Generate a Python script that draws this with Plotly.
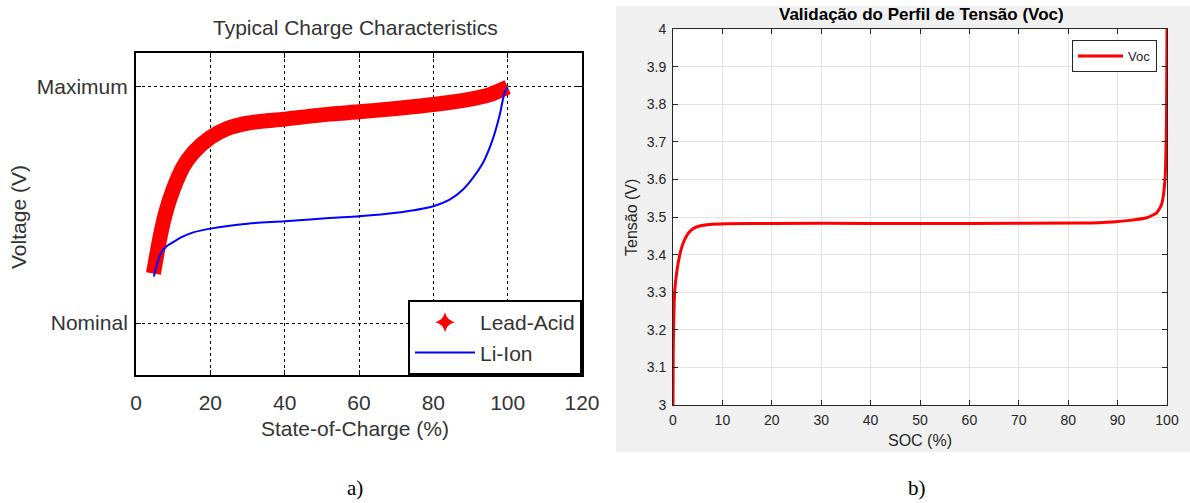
import plotly.graph_objects as go

# ---- Left chart data (normalized voltage: Nominal = 0, Maximum = 1) ----
soc_lead = [4.7, 6.5, 8.2, 10, 12.7, 15.4, 20, 24.4, 30, 40, 52, 60, 70, 80, 90, 95, 100]
v_lead = [0.21, 0.367, 0.48, 0.566, 0.662, 0.722, 0.786, 0.823, 0.847, 0.864, 0.885,
          0.895, 0.909, 0.926, 0.949, 0.967, 1.0]

soc_li = [4.8, 6.5, 8.2, 10, 12.7, 15.4, 20, 30, 40, 52, 60, 70, 80, 84.4, 88, 90.7,
          93.4, 96, 97.8, 99.2, 100]
v_li = [0.197, 0.289, 0.325, 0.343, 0.367, 0.384, 0.40, 0.421, 0.431, 0.445, 0.452,
        0.467, 0.495, 0.523, 0.566, 0.616, 0.68, 0.779, 0.878, 0.977, 1.0]

left_xticks = [0, 20, 40, 60, 80, 100, 120]
left_yticks = [0, 1]
left_yticktext = ["Nominal", "Maximum"]

# ---- Right chart data ----
soc_voc = [0, 0.05, 0.15, 0.34, 0.81, 1.35, 2.0, 3.04, 4.05, 5.4, 7.4, 10.8, 20, 40,
           60, 82.4, 89.1, 92.5, 95.9, 97.9, 98.9, 99.6, 99.9, 100]
voc = [3.0, 3.15, 3.227, 3.303, 3.358, 3.398, 3.429, 3.456, 3.469, 3.476, 3.48, 3.482,
       3.483, 3.483, 3.483, 3.484, 3.487, 3.491, 3.498, 3.511, 3.533, 3.6, 3.76, 4.0]

right_xticks = [0, 10, 20, 30, 40, 50, 60, 70, 80, 90, 100]
right_yticks = [3.0, 3.1, 3.2, 3.3, 3.4, 3.5, 3.6, 3.7, 3.8, 3.9, 4.0]
right_yticktext = ["3", "3.1", "3.2", "3.3", "3.4", "3.5", "3.6", "3.7", "3.8", "3.9", "4"]

W, H = 1190, 503


def px(x):
    return x / W


def py(y):
    return 1 - y / H


SANS = "Liberation Sans, Arial, sans-serif"
SERIF = "Liberation Serif, Times New Roman, serif"
LCOL = "#333333"
RCOL = "#262626"

fig = go.Figure()

fig.add_trace(go.Scatter(
    x=soc_lead, y=v_lead, mode="lines",
    line=dict(color="#ff0000", width=15, shape="spline", smoothing=0.8),
    showlegend=False, xaxis="x", yaxis="y", hoverinfo="skip"))
fig.add_trace(go.Scatter(
    x=[None], y=[None], mode="markers", name="Lead-Acid",
    marker=dict(symbol="star-diamond", size=14, color="#ff0000"),
    xaxis="x", yaxis="y", legend="legend"))
fig.add_trace(go.Scatter(
    x=soc_li, y=v_li, mode="lines", name="Li-Ion",
    line=dict(color="#0000ff", width=2, shape="spline", smoothing=0.8),
    xaxis="x", yaxis="y", legend="legend"))

fig.add_trace(go.Scatter(
    x=soc_voc, y=voc, mode="lines", name="Voc",
    line=dict(color="#ff0000", width=3, shape="spline", smoothing=0.5),
    xaxis="x2", yaxis="y2", legend="legend2"))

left_axis_common = dict(
    ticks="inside", ticklen=5, tickcolor="black", showline=True, linecolor="black",
    linewidth=2, mirror="allticks", showgrid=True, gridcolor="black", griddash="dot",
    gridwidth=1, zeroline=False, automargin=False,
    tickfont=dict(family=SANS, size=21, color=LCOL))

right_axis_common = dict(
    ticks="inside", ticklen=5, tickcolor=RCOL, showline=True, linecolor=RCOL,
    linewidth=1, mirror="allticks", showgrid=True, gridcolor="#e3e3e3", gridwidth=1,
    zeroline=False, automargin=False, tickfont=dict(family=SANS, size=14, color=RCOL))


def ann(text, x, y, size, color, family=SANS, angle=0):
    return dict(text=text, x=px(x), y=py(y), xref="paper", yref="paper",
                xanchor="center", yanchor="middle", showarrow=False, textangle=angle,
                font=dict(family=family, size=size, color=color))


fig.update_layout(
    width=W, height=H, autosize=False,
    margin=dict(l=0, r=0, t=0, b=0, pad=0, autoexpand=False),
    paper_bgcolor="white", plot_bgcolor="white",
    xaxis=dict(domain=[px(136), px(582)], range=[0, 120], anchor="y",
               tickvals=left_xticks, ticklabelstandoff=8, **left_axis_common),
    yaxis=dict(domain=[py(375), py(53)], range=[-0.22, 1.144], anchor="x",
               tickvals=left_yticks, ticktext=left_yticktext, ticklabelstandoff=2,
               **left_axis_common),
    xaxis2=dict(domain=[px(673), px(1167)], range=[0, 100], anchor="y2",
                tickvals=right_xticks, ticklabelstandoff=2, **right_axis_common),
    yaxis2=dict(domain=[py(405), py(29)], range=[3, 4], anchor="x2",
                tickvals=right_yticks, ticktext=right_yticktext, ticklabelstandoff=3,
                **right_axis_common),
    legend=dict(x=px(582), y=py(375), xanchor="right", yanchor="bottom",
                bordercolor="black", borderwidth=2, bgcolor="white",
                font=dict(family=SANS, size=21, color=LCOL), itemwidth=60,
                tracegroupgap=0),
    legend2=dict(x=px(1157), y=py(40), xanchor="right", yanchor="top",
                 bordercolor=RCOL, borderwidth=1, bgcolor="white",
                 font=dict(family=SANS, size=13, color=RCOL), itemwidth=45),
    shapes=[
        dict(type="rect", xref="paper", yref="paper", x0=px(616), x1=1.0,
             y0=py(452), y1=py(6), fillcolor="#f0f0f0", line=dict(width=0),
             layer="below"),
        dict(type="rect", xref="x2 domain", yref="y2 domain", x0=0, x1=1, y0=0, y1=1,
             fillcolor="white", line=dict(width=0), layer="below"),
    ],
    annotations=[
        ann("Typical Charge Characteristics", 355, 27, 21, LCOL),
        ann("State-of-Charge (%)", 355, 428, 21, LCOL),
        ann("Voltage (V)", 18, 217, 21, LCOL, angle=-90),
        ann("<b>Validação do Perfil de Tensão (Voc)</b>", 921, 14, 17, "black"),
        ann("SOC (%)", 920, 440, 16, RCOL),
        ann("Tensão (V)", 631, 218, 16, RCOL, angle=-90),
        ann("a)", 355, 488, 21, "black", family=SERIF),
        ann("b)", 917, 488, 21, "black", family=SERIF),
    ],
)

fig.write_html(
    "out.html",
    config={"displayModeBar": False},
    post_script="document.body.style.margin='0';document.body.style.overflow='hidden';",
)
